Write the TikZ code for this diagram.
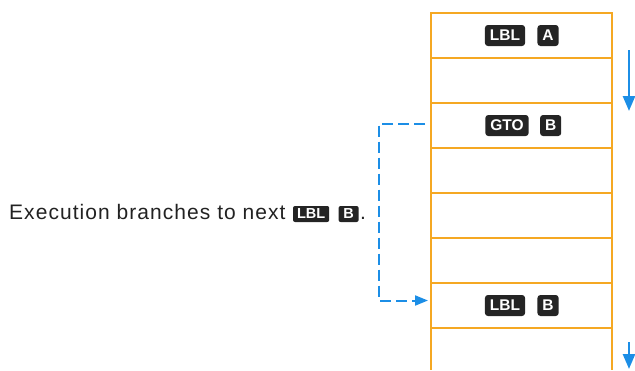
\documentclass[tikz,border=0pt]{standalone}
\usepackage{fontspec}
\setmainfont{Liberation Sans}
\newfontfamily\notefont[LetterSpace=5]{Liberation Sans}
\usetikzlibrary{arrows.meta,positioning}
\definecolor{stepline}{RGB}{245,168,35}
\definecolor{flowblue}{RGB}{28,142,230}
\definecolor{keyblack}{RGB}{36,36,36}
\definecolor{notegray}{RGB}{34,34,34}

\begin{document}
\begin{tikzpicture}[x=1pt, y=-1pt,
    cell/.style={draw=stepline, line width=2pt, minimum width=181pt,
                 minimum height=45pt, inner sep=0pt, outer sep=0pt},
    key/.style={fill=keyblack, text=white, rounded corners=3pt,
                font=\fontsize{15.5}{15.5}\selectfont\bfseries,
                minimum height=21pt, inner xsep=5pt, inner ysep=0pt},
    smallkey/.style={key, font=\fontsize{14.5}{14.5}\selectfont\bfseries,
                     minimum height=16pt, minimum width=20pt, inner xsep=4pt,
                     rounded corners=2pt},
    flow/.style={draw=flowblue, line width=2.6pt,
                 -{Triangle[length=15pt,width=12pt]}, flowblue},
    branch/.style={flow, line width=2pt, dash pattern=on 11pt off 5pt,
                   -{Triangle[length=13pt,width=10pt]}}]
  \useasboundingbox (0,0) rectangle (635,370);

  % Program memory, one step per cell
  \node[cell] (r1) at (521.5,35.5) {};
  \foreach \i [remember=\i as \j (initially 1)] in {2,...,7}
    \node[cell, below=0pt of r\j] (r\i) {};
  % last cell runs off the page
  \draw[stepline, line width=2pt] (r7.south west) -- (r7.south west |- 0,370);
  \draw[stepline, line width=2pt] (r7.south east) -- (r7.south east |- 0,370);

  % Keys in the program
  \node[key] (lblA) at ([xshift=-16.5pt]r1.center) {LBL};
  \node[key, right=12pt of lblA] (keyA) {A};
  \node[key] (gtoB) at ([xshift=-14.5pt]r3.center) {GTO};
  \node[key, right=11pt of gtoB] (keyB) {B};
  \node[key] (lblB) at ([xshift=-16.5pt]r7.center) {LBL};
  \node[key, right=12pt of lblB] (keyBB) {B};

  % Note
  \node[anchor=base west, inner sep=0pt, text=notegray,
        font=\fontsize{21}{25}\notefont] (note) at (9,219)
    {Execution branches to next};
  \node[smallkey, anchor=west] (noteLBL) at ([xshift=7pt,yshift=5pt]note.base east) {LBL};
  \node[smallkey, right=9pt of noteLBL] (noteB) {B};
  \node[anchor=base west, inner sep=0pt, text=notegray,
        font=\fontsize{21}{25}\notefont] (dot) at (noteB.east |- note.base)
    {\kern1pt.};

  % Flow of execution
  \coordinate (runA) at (629,50);
  \coordinate (runAend) at (629,111);
  \coordinate (runB) at (629,342);
  \coordinate (runBend) at (629,369);
  \draw[flow] (runA) -- (runAend);
  \draw[flow] (runB) -- (runBend);
  \draw[branch] ([xshift=-6pt,yshift=2pt]r3.west) -- ++(-46pt,0)
    |- ([xshift=-3pt,yshift=5pt]r7.west);
\end{tikzpicture}
\end{document}
